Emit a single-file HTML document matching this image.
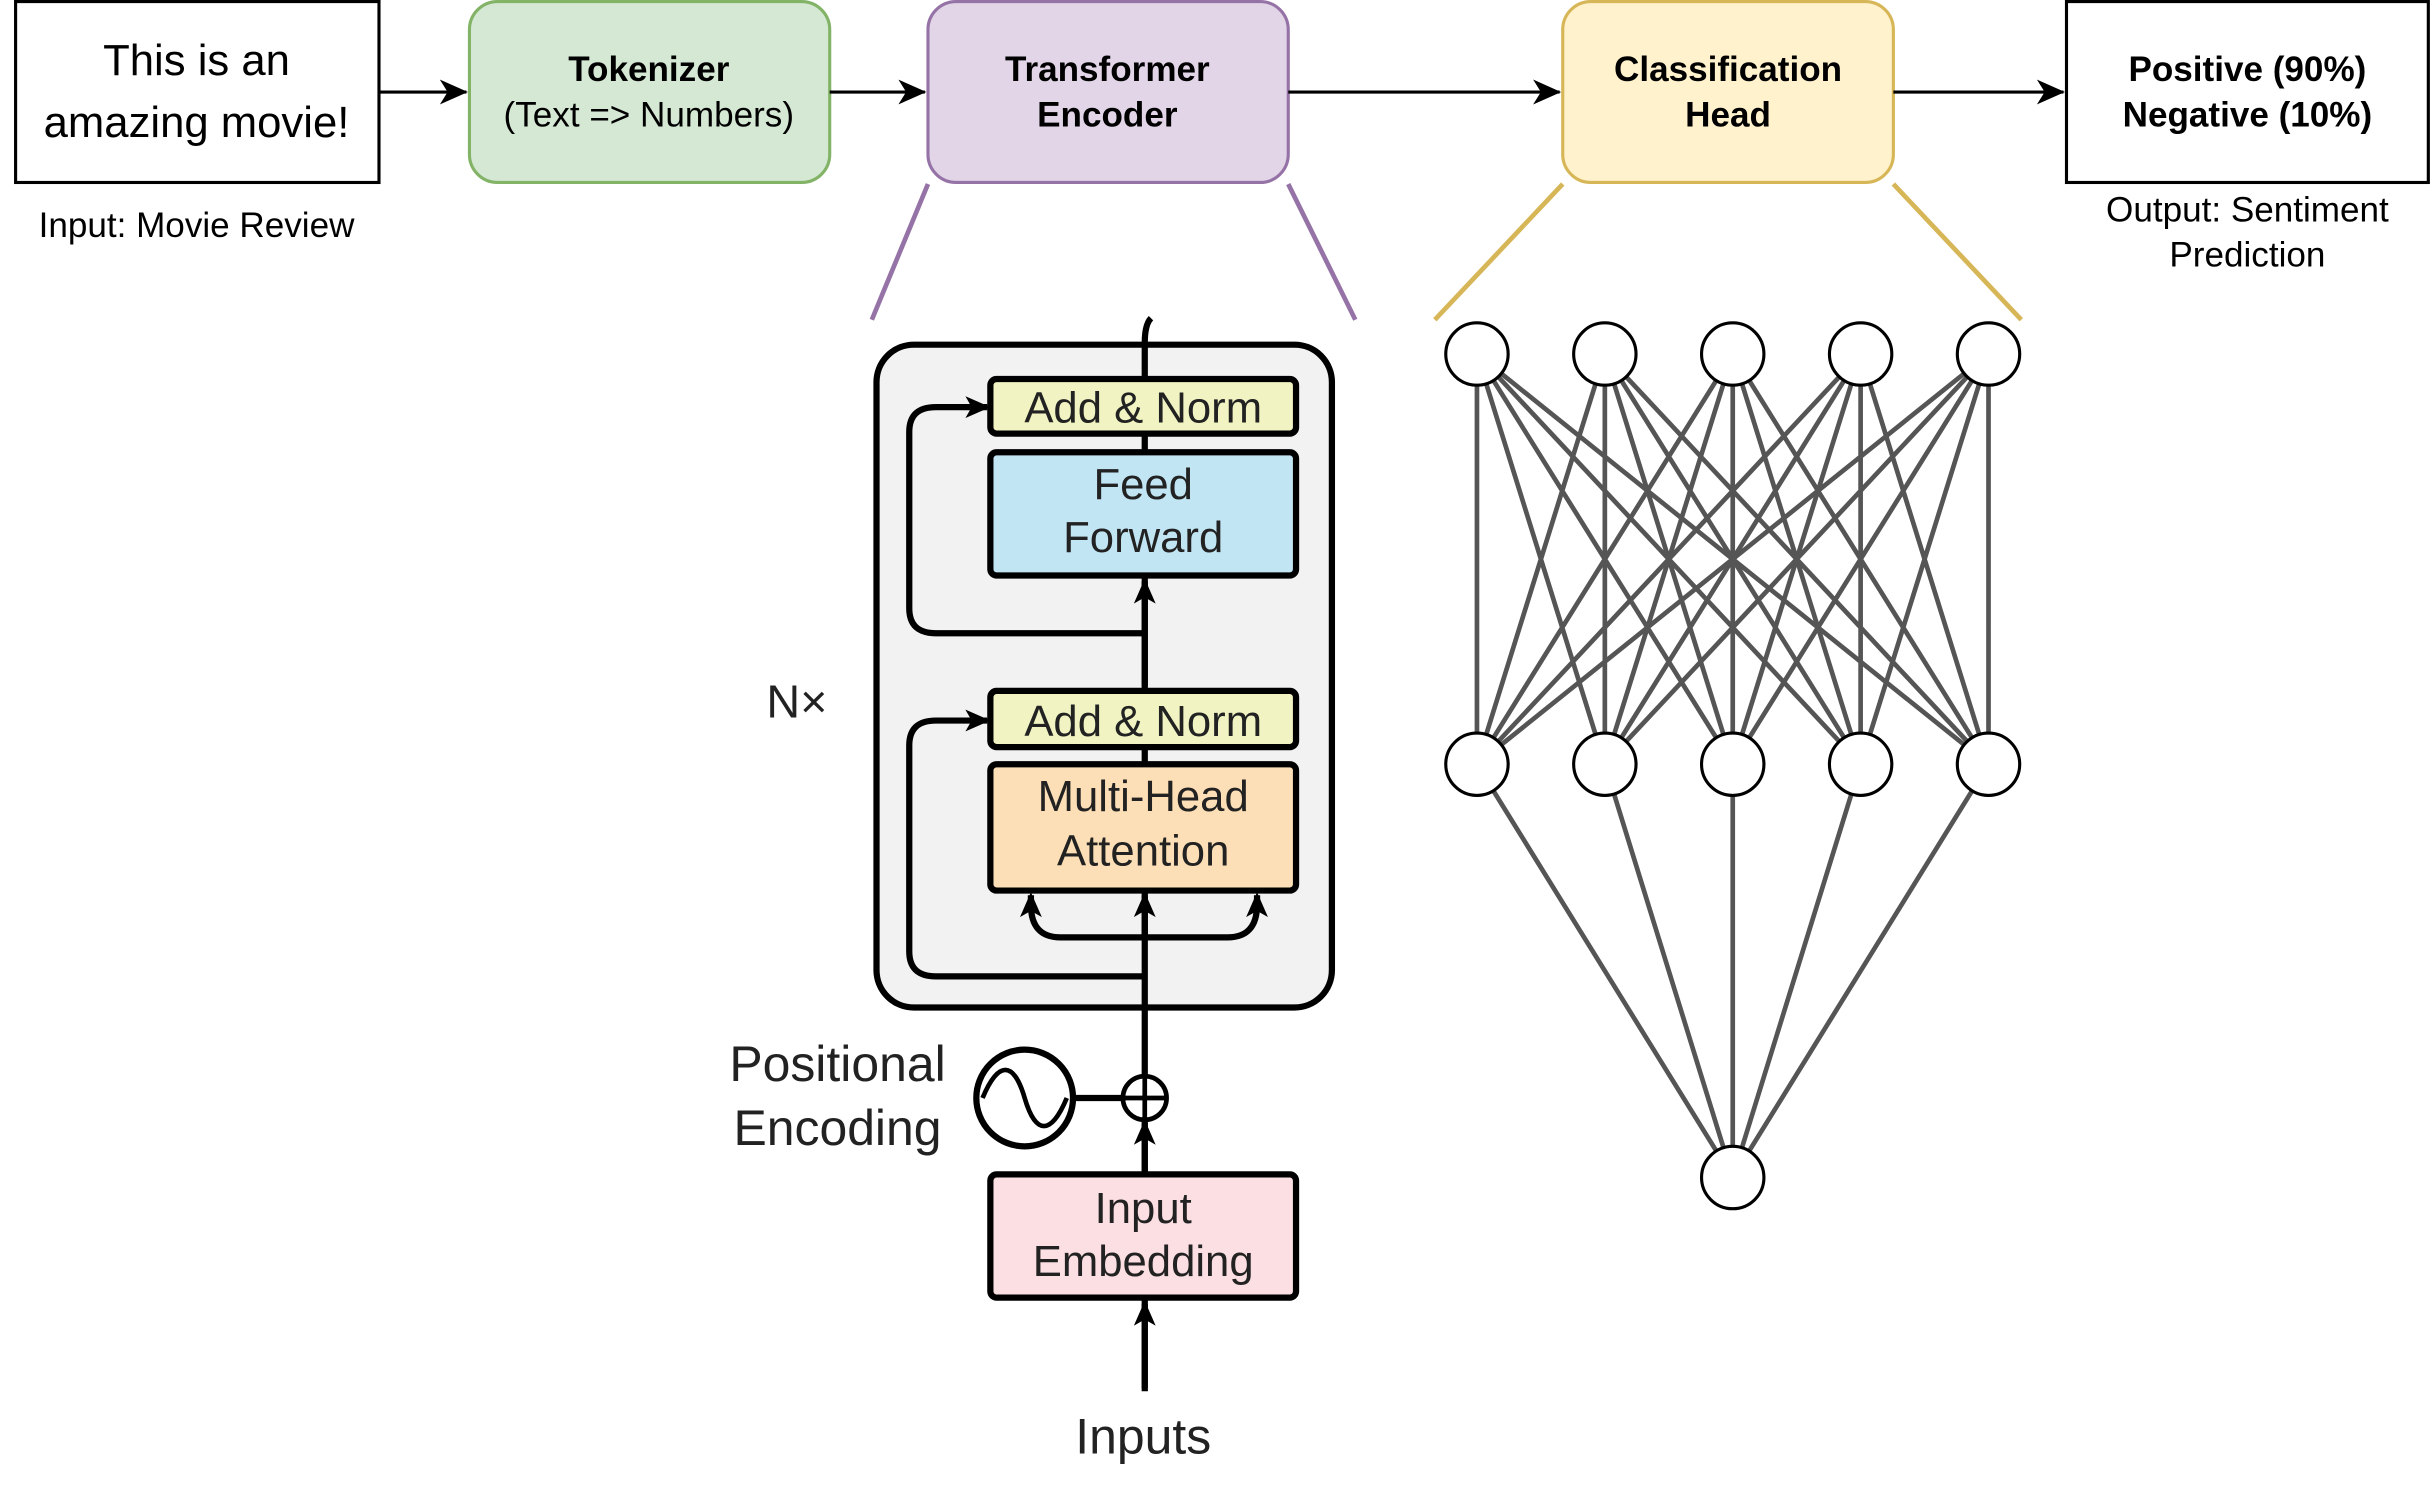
<!DOCTYPE html>
<html><head><style>html,body{margin:0;padding:0;background:#fff}svg{display:block}</style></head>
<body>
<svg width="2433" height="1506" viewBox="0 0 1560 965.6" preserveAspectRatio="none" xmlns="http://www.w3.org/2000/svg" font-family="Liberation Sans, sans-serif">
<defs>
<marker id="a" markerWidth="16" markerHeight="16" refX="14" refY="8" orient="auto" markerUnits="userSpaceOnUse"><path d="M0,1 L16,8 L0,15 L4,8z" fill="#000"/></marker>
<marker id="b" markerWidth="18" markerHeight="18" refX="17" refY="9" orient="auto" markerUnits="userSpaceOnUse"><path d="M0,1 L18,9 L0,17 L5,9z" fill="#000"/></marker>
</defs>
<!-- top row -->
<rect x="10" y="1" width="233" height="116" fill="#fff" stroke="#000" stroke-width="2"/>
<text x="126" y="48" font-size="28" text-anchor="middle">This is an</text>
<text x="126" y="88" font-size="28" text-anchor="middle">amazing movie!</text>
<text x="126" y="152" font-size="22.5" text-anchor="middle">Input: Movie Review</text>
<line x1="243" y1="59" x2="299" y2="59" stroke="#000" stroke-width="2" marker-end="url(#b)"/>
<rect x="301" y="1" width="231" height="116" rx="18" fill="#d5e8d4" stroke="#82b366" stroke-width="2"/>
<text x="416" y="52" font-size="22.5" font-weight="bold" text-anchor="middle">Tokenizer</text>
<text x="416" y="81" font-size="22.5" text-anchor="middle">(Text =&gt; Numbers)</text>
<line x1="532" y1="59" x2="593" y2="59" stroke="#000" stroke-width="2" marker-end="url(#b)"/>
<rect x="595" y="1" width="231" height="116" rx="18" fill="#e1d5e7" stroke="#9673a6" stroke-width="2"/>
<text x="710" y="52" font-size="22.5" font-weight="bold" text-anchor="middle">Transformer</text>
<text x="710" y="81" font-size="22.5" font-weight="bold" text-anchor="middle">Encoder</text>
<line x1="826" y1="59" x2="1000" y2="59" stroke="#000" stroke-width="2" marker-end="url(#b)"/>
<rect x="1002" y="1" width="212" height="116" rx="18" fill="#fff2cc" stroke="#d6b656" stroke-width="2"/>
<text x="1108" y="52" font-size="22.5" font-weight="bold" text-anchor="middle">Classification</text>
<text x="1108" y="81" font-size="22.5" font-weight="bold" text-anchor="middle">Head</text>
<line x1="1214" y1="59" x2="1323" y2="59" stroke="#000" stroke-width="2" marker-end="url(#b)"/>
<rect x="1325" y="1" width="232" height="116" fill="#fff" stroke="#000" stroke-width="2"/>
<text x="1441" y="52" font-size="22.5" font-weight="bold" text-anchor="middle">Positive (90%)</text>
<text x="1441" y="81" font-size="22.5" font-weight="bold" text-anchor="middle">Negative (10%)</text>
<text x="1441" y="142" font-size="22.5" text-anchor="middle">Output: Sentiment</text>
<text x="1441" y="171" font-size="22.5" text-anchor="middle">Prediction</text>
<!-- zoom lines -->
<line x1="595" y1="118" x2="559" y2="205" stroke="#9673a6" stroke-width="3"/>
<line x1="826" y1="118" x2="869" y2="205" stroke="#9673a6" stroke-width="3"/>
<line x1="1002" y1="118" x2="920" y2="205" stroke="#d6b656" stroke-width="3"/>
<line x1="1214" y1="118" x2="1296" y2="205" stroke="#d6b656" stroke-width="3"/>
<!-- encoder -->
<rect x="562" y="221" width="292" height="425" rx="24" fill="#f2f2f2" stroke="#000" stroke-width="4"/>
<path d="M734,890 L734,220 Q734,208 738,204" fill="none" stroke="#000" stroke-width="4"/>
<path d="M734,406 L600,406 Q583,406 583,390 L583,277 Q583,261 600,261 L633,261" fill="none" stroke="#000" stroke-width="4" marker-end="url(#a)"/>
<path d="M734,626 L600,626 Q583,626 583,610 L583,478 Q583,462 600,462 L633,462" fill="none" stroke="#000" stroke-width="4" marker-end="url(#a)"/>
<path d="M734,601 L680,601 Q661,601 661,580 L661,574" fill="none" stroke="#000" stroke-width="4" marker-end="url(#a)"/>
<path d="M734,601 L787,601 Q806,601 806,580 L806,574" fill="none" stroke="#000" stroke-width="4" marker-end="url(#a)"/>
<line x1="734" y1="600" x2="734" y2="574" stroke="#000" stroke-width="4" marker-end="url(#a)"/>
<line x1="734" y1="440" x2="734" y2="373" stroke="#000" stroke-width="4" marker-end="url(#a)"/>
<rect x="635" y="243" width="196" height="35" rx="4" fill="#f1f4c2" stroke="#000" stroke-width="4"/>
<text x="733" y="271" font-size="28" text-anchor="middle" fill="#222">Add &amp; Norm</text>
<rect x="635" y="290" width="196" height="79" rx="4" fill="#c2e5f4" stroke="#000" stroke-width="4"/>
<text x="733" y="320" font-size="28" text-anchor="middle" fill="#222">Feed</text>
<text x="733" y="354" font-size="28" text-anchor="middle" fill="#222">Forward</text>
<rect x="635" y="443" width="196" height="36" rx="4" fill="#f1f4c2" stroke="#000" stroke-width="4"/>
<text x="733" y="472" font-size="28" text-anchor="middle" fill="#222">Add &amp; Norm</text>
<rect x="635" y="490" width="196" height="81" rx="4" fill="#fcdfb6" stroke="#000" stroke-width="4"/>
<text x="733" y="520" font-size="28" text-anchor="middle" fill="#222">Multi-Head</text>
<text x="733" y="555" font-size="28" text-anchor="middle" fill="#222">Attention</text>
<text x="511" y="460" font-size="30" text-anchor="middle" fill="#222">N×</text>
<!-- positional -->
<text x="537" y="693" font-size="32" text-anchor="middle" fill="#222">Positional</text>
<text x="537" y="734" font-size="32" text-anchor="middle" fill="#222">Encoding</text>
<circle cx="657" cy="704" r="31" fill="#fff" stroke="#000" stroke-width="4"/>
<path d="M630,704 C640,680 650,680 657,704 C664,728 674,728 684,704" fill="none" stroke="#000" stroke-width="3"/>
<line x1="688" y1="704" x2="720" y2="704" stroke="#000" stroke-width="4"/>
<circle cx="734" cy="704" r="14" fill="#fff" stroke="#000" stroke-width="3"/>
<line x1="720" y1="704" x2="748" y2="704" stroke="#000" stroke-width="3"/>
<line x1="734" y1="690" x2="734" y2="718" stroke="#000" stroke-width="3"/>
<line x1="734" y1="752" x2="734" y2="720" stroke="#000" stroke-width="4" marker-end="url(#a)"/>
<rect x="635" y="753" width="196" height="79" rx="4" fill="#fbdfe2" stroke="#000" stroke-width="4"/>
<text x="733" y="784" font-size="28" text-anchor="middle" fill="#222">Input</text>
<text x="733" y="818" font-size="28" text-anchor="middle" fill="#222">Embedding</text>
<line x1="734" y1="892" x2="734" y2="836" stroke="#000" stroke-width="4" marker-end="url(#a)"/>
<text x="733" y="932" font-size="32" text-anchor="middle" fill="#222">Inputs</text>
<!-- NN -->
<g stroke="#555" stroke-width="3">
<path d="M947,227L947,490M947,227L1029,490M947,227L1111,490M947,227L1193,490M947,227L1275,490
M1029,227L947,490M1029,227L1029,490M1029,227L1111,490M1029,227L1193,490M1029,227L1275,490
M1111,227L947,490M1111,227L1029,490M1111,227L1111,490M1111,227L1193,490M1111,227L1275,490
M1193,227L947,490M1193,227L1029,490M1193,227L1111,490M1193,227L1193,490M1193,227L1275,490
M1275,227L947,490M1275,227L1029,490M1275,227L1111,490M1275,227L1193,490M1275,227L1275,490
M947,490L1111,755M1029,490L1111,755M1111,490L1111,755M1193,490L1111,755M1275,490L1111,755"/>
</g>
<g fill="#fff" stroke="#000" stroke-width="2">
<circle cx="947" cy="227" r="20"/><circle cx="1029" cy="227" r="20"/><circle cx="1111" cy="227" r="20"/><circle cx="1193" cy="227" r="20"/><circle cx="1275" cy="227" r="20"/>
<circle cx="947" cy="490" r="20"/><circle cx="1029" cy="490" r="20"/><circle cx="1111" cy="490" r="20"/><circle cx="1193" cy="490" r="20"/><circle cx="1275" cy="490" r="20"/>
<circle cx="1111" cy="755" r="20"/>
</g>
</svg>
</body></html>
